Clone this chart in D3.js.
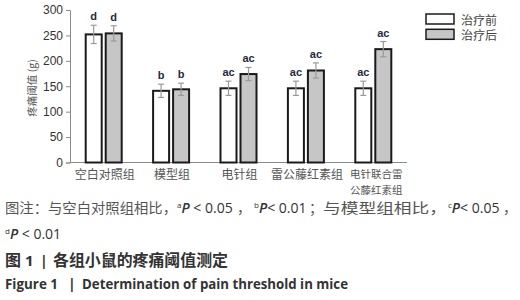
<!DOCTYPE html>
<html><head><meta charset="utf-8">
<script src="https://cdn.jsdelivr.net/npm/d3@7"></script>
<style>
html,body{margin:0;padding:0;background:#fff;}
svg{display:block;}
</style></head>
<body>
<svg id="chart" width="520" height="300"></svg>
<script>
const categories = ["空白对照组","模型组","电针组","雷公藤红素组","电针联合雷公藤红素组"];
const categoryLines = [["空白对照组"],["模型组"],["电针组"],["雷公藤红素组"],["电针联合雷","公藤红素组"]];
const seriesNames = ["治疗前","治疗后"];
const beforeValues = [252, 141, 146, 146, 146];
const afterValues = [254, 144, 174, 181, 223];
const beforeErr = [18, 13, 14, 14, 14];
const afterErr = [15, 12, 13, 15, 15];
const beforeSig = ["d","b","ac","ac","ac"];
const afterSig = ["d","b","ac","ac","ac"];
const yTicks = [0,50,100,150,200,250,300];

const svg = d3.select("#chart");
const cjk = "'Noto Sans CJK SC', sans-serif";
const x = d3.scaleBand().domain(categories).range([70, 407]).padding(0);
const y = d3.scaleLinear().domain([0,300]).range([162.5, 10]);
const sub = d3.scaleBand().domain(seriesNames).range([-18, 18]).paddingInner(0.2);
const fills = ["#ffffff", "#c6c6c6"];

// y axis
const yAxis = svg.append("g").attr("transform","translate(70,0)")
  .call(d3.axisLeft(y).tickValues(yTicks).tickSize(4).tickPadding(3));
yAxis.select(".domain").attr("stroke","#8a8a8a");
yAxis.selectAll(".tick line").attr("stroke","#8a8a8a");
yAxis.selectAll(".tick text").attr("font-family","'Liberation Sans', Arial, sans-serif")
  .attr("font-size", 12).attr("fill","#333");

// x baseline
svg.append("line").attr("x1",70).attr("x2",407).attr("y1",y(0)).attr("y2",y(0))
  .attr("stroke","#8a8a8a").attr("stroke-width",1.2);

// y title
svg.append("text").attr("transform","translate(31,88) rotate(-90)")
  .attr("text-anchor","middle").attr("dominant-baseline","central")
  .attr("font-family",cjk).attr("font-size",10.5).attr("fill","#555")
  .text("疼痛阈值 (g)");

const data = categories.map((c,i)=>[
  {c, s:seriesNames[0], v:beforeValues[i], e:beforeErr[i], sig:beforeSig[i], k:0},
  {c, s:seriesNames[1], v:afterValues[i], e:afterErr[i], sig:afterSig[i], k:1}
]).flat();

const cx = d => x(d.c) + x.bandwidth()/2 + sub(d.s);
const g = svg.append("g");
g.selectAll("rect.bar").data(data).join("rect").attr("class","bar")
  .attr("x", d=>cx(d)).attr("width", sub.bandwidth())
  .attr("y", d=>y(d.v)).attr("height", d=>y(0)-y(d.v))
  .attr("fill", d=>fills[d.k]).attr("stroke","#1a1a1a").attr("stroke-width",2);

// error bars
const eb = g.selectAll("g.err").data(data).join("g").attr("class","err")
  .attr("stroke","#9a9a9a").attr("stroke-width",1.2);
eb.append("line").attr("x1",d=>cx(d)+sub.bandwidth()/2).attr("x2",d=>cx(d)+sub.bandwidth()/2)
  .attr("y1",d=>y(d.v+d.e)).attr("y2",d=>y(d.v-d.e));
eb.append("line").attr("x1",d=>cx(d)+sub.bandwidth()/2-3).attr("x2",d=>cx(d)+sub.bandwidth()/2+3)
  .attr("y1",d=>y(d.v+d.e)).attr("y2",d=>y(d.v+d.e));
eb.append("line").attr("x1",d=>cx(d)+sub.bandwidth()/2-3).attr("x2",d=>cx(d)+sub.bandwidth()/2+3)
  .attr("y1",d=>y(d.v-d.e)).attr("y2",d=>y(d.v-d.e));

// significance labels
g.selectAll("text.sig").data(data).join("text").attr("class","sig")
  .attr("x",d=>cx(d)+sub.bandwidth()/2).attr("y",d=>y(d.v+d.e)-5)
  .attr("text-anchor","middle").attr("font-family","'Liberation Sans', Arial, sans-serif")
  .attr("font-weight","bold").attr("font-size",11).attr("fill","#1f2a44")
  .text(d=>d.sig);

// x labels
const xl = svg.append("g");
categories.forEach((c,i)=>{
  const multi = categoryLines[i].length > 1;
  categoryLines[i].forEach((ln,j)=>{
    xl.append("text").attr("x", x(c)+x.bandwidth()/2+(multi?3:1)).attr("y",(multi?178:179) + j*15.5)
      .attr("text-anchor","middle").attr("font-family",cjk)
      .attr("font-size", multi ? 10.5 : 12).attr("fill","#555").text(ln);
  });
});

// legend
const lg = svg.append("g");
seriesNames.forEach((s,i)=>{
  lg.append("rect").attr("x",426).attr("y",14+i*15.3).attr("width",28).attr("height",10)
    .attr("fill",fills[i]).attr("stroke","#1a1a1a").attr("stroke-width",1.5);
  lg.append("text").attr("x",461).attr("y",19+i*15.3).attr("dominant-baseline","central")
    .attr("font-family",cjk).attr("font-size",12).attr("fill","#444").text(s);
});

// captions
const capFill = "#555";
function seg(xp, yp, txt, opts={}){
  const t = svg.append("text").attr("x",xp).attr("y",yp)
    .attr("font-family", opts.font || cjk).attr("font-size", opts.size || 14)
    .attr("fill", opts.fill || capFill).attr("font-weight", opts.weight || "normal");
  if (opts.style) t.attr("font-style", opts.style);
  if (opts.len) t.attr("textLength", opts.len).attr("lengthAdjust","spacingAndGlyphs");
  t.text(txt);
  return t;
}
const lat = "'Open Sans', 'Liberation Sans', sans-serif";
function pv(xp, yp, sup, rest){
  const t = svg.append("text").attr("x",xp).attr("y",yp).attr("font-family",lat)
    .attr("font-size",14).attr("fill","#333");
  t.append("tspan").attr("font-size",8).attr("dy",-5).text(sup);
  t.append("tspan").attr("dy",5).attr("font-style","italic").attr("font-weight","600").text("P");
  t.append("tspan").text(rest);
  return t;
}
seg(5, 213, "图注：与空白对照组相比，", {len:172});
pv(177, 213, "a", " < 0.05");
seg(237, 213, "，");
pv(254, 213, "b", "< 0.01");
seg(309, 213, "；");
seg(323, 213, "与模型组相比，", {len:124});
pv(448, 213, "c", "< 0.05");
seg(503, 213, "，");
pv(5, 239, "d", " < 0.01");

seg(5, 266, "图", {size:16, weight:"bold", fill:"#333"});
seg(25, 266, "1", {size:15, weight:"bold", fill:"#333", font:lat});
seg(40, 266, "|", {size:14, weight:"bold", fill:"#333", font:lat});
seg(53, 266, "各组小鼠的疼痛阈值测定", {size:16, weight:"bold", fill:"#333", len:175});

seg(5, 289, "Figure 1", {size:14, weight:"bold", fill:"#333", font:lat, len:53});
seg(68, 289, "|", {size:14, weight:"bold", fill:"#333", font:lat});
seg(82, 289, "Determination of pain threshold in mice", {size:14, weight:"bold", fill:"#333", font:lat, len:266});
</script>
</body></html>
